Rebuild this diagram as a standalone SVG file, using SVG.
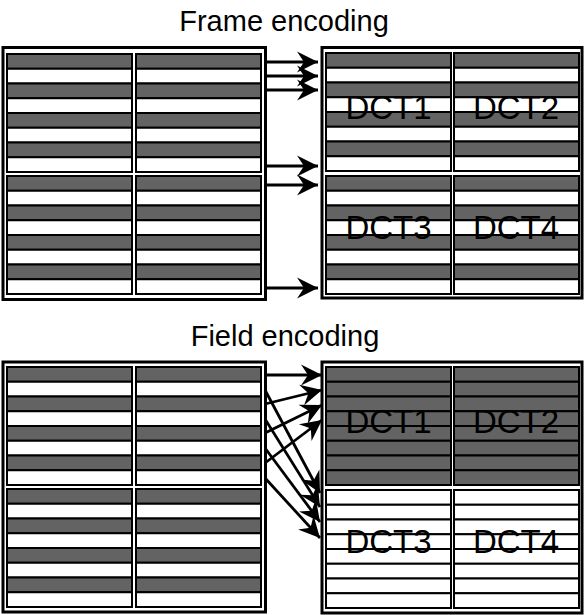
<svg xmlns="http://www.w3.org/2000/svg" xmlns:xlink="http://www.w3.org/1999/xlink" width="584" height="615" viewBox="0 0 584 615">
<style>
.g{fill:#636363;stroke:#000;stroke-width:2}
.w{fill:#fff;stroke:#000;stroke-width:2}
.frame{fill:#fff;stroke:#000;stroke-width:3}
.title{font-family:"Liberation Sans",Arial,sans-serif;font-size:29px;fill:#000;text-anchor:middle}
.dct{font-family:"Liberation Sans",Arial,sans-serif;font-size:33px;fill:#000;text-anchor:middle}
.arr{stroke:#000;stroke-width:2.8;fill:none;marker-end:url(#ah)}
</style>
<defs>
<marker id="ah" viewBox="-22 -11 22 22" refX="0" refY="0" markerWidth="22" markerHeight="22" markerUnits="userSpaceOnUse" orient="auto">
<path d="M0,0 L-21,-10.5 L-14,0 L-21,10.5 Z" fill="#000"/>
</marker>
<g id="mbAlt">
<rect class="g" x="0" y="0" width="125" height="14.75"/>
<rect class="w" x="0" y="14.75" width="125" height="14.75"/>
<rect class="g" x="0" y="29.5" width="125" height="14.75"/>
<rect class="w" x="0" y="44.25" width="125" height="14.75"/>
<rect class="g" x="0" y="59" width="125" height="14.75"/>
<rect class="w" x="0" y="73.75" width="125" height="14.75"/>
<rect class="g" x="0" y="88.5" width="125" height="14.75"/>
<rect class="w" x="0" y="103.25" width="125" height="14.75"/>
</g>
<g id="mbGray">
<rect class="g" x="0" y="0" width="125" height="14.75"/>
<rect class="g" x="0" y="14.75" width="125" height="14.75"/>
<rect class="g" x="0" y="29.5" width="125" height="14.75"/>
<rect class="g" x="0" y="44.25" width="125" height="14.75"/>
<rect class="g" x="0" y="59" width="125" height="14.75"/>
<rect class="g" x="0" y="73.75" width="125" height="14.75"/>
<rect class="g" x="0" y="88.5" width="125" height="14.75"/>
<rect class="g" x="0" y="103.25" width="125" height="14.75"/>
</g>
<g id="mbWhite">
<rect class="w" x="0" y="0" width="125" height="14.75"/>
<rect class="w" x="0" y="14.75" width="125" height="14.75"/>
<rect class="w" x="0" y="29.5" width="125" height="14.75"/>
<rect class="w" x="0" y="44.25" width="125" height="14.75"/>
<rect class="w" x="0" y="59" width="125" height="14.75"/>
<rect class="w" x="0" y="73.75" width="125" height="14.75"/>
<rect class="w" x="0" y="88.5" width="125" height="14.75"/>
<rect class="w" x="0" y="103.25" width="125" height="14.75"/>
</g>
</defs>
<rect width="584" height="615" fill="#fff"/>
<text class="title" x="284" y="31">Frame encoding</text>
<text class="title" x="285" y="346">Field encoding</text>

<g id="frame-src">
<rect class="frame" x="3" y="47.5" width="262.5" height="252"/>
<use xlink:href="#mbAlt" x="7" y="54"/>
<use xlink:href="#mbAlt" x="136" y="54"/>
<use xlink:href="#mbAlt" x="7" y="176"/>
<use xlink:href="#mbAlt" x="136" y="176"/>
</g>

<g id="frame-dct">
<rect class="frame" x="322" y="47.5" width="260" height="250.5"/>
<use xlink:href="#mbAlt" x="326" y="53"/>
<use xlink:href="#mbAlt" x="454" y="53"/>
<use xlink:href="#mbAlt" x="326" y="176"/>
<use xlink:href="#mbAlt" x="454" y="176"/>
<text class="dct" x="388.5" y="119">DCT1</text>
<text class="dct" x="516" y="119">DCT2</text>
<text class="dct" x="388.5" y="239">DCT3</text>
<text class="dct" x="516" y="239">DCT4</text>
</g>

<g id="field-src">
<rect class="frame" x="3" y="362" width="262.5" height="250"/>
<use xlink:href="#mbAlt" x="7" y="367"/>
<use xlink:href="#mbAlt" x="136" y="367"/>
<use xlink:href="#mbAlt" x="7" y="489"/>
<use xlink:href="#mbAlt" x="136" y="489"/>
</g>

<g id="field-dct">
<rect class="frame" x="322" y="362" width="260" height="251"/>
<use xlink:href="#mbGray" x="326" y="367"/>
<use xlink:href="#mbGray" x="454" y="367"/>
<use xlink:href="#mbWhite" x="326" y="490"/>
<use xlink:href="#mbWhite" x="454" y="490"/>
<text class="dct" x="388.5" y="433">DCT1</text>
<text class="dct" x="516" y="433">DCT2</text>
<text class="dct" x="388.5" y="553">DCT3</text>
<text class="dct" x="516" y="553">DCT4</text>
</g>

<g id="connectors">
<line class="arr" x1="267" y1="62" x2="318" y2="62"/>
<line class="arr" x1="267" y1="76" x2="318" y2="76"/>
<line class="arr" x1="267" y1="90" x2="318" y2="90"/>
<line class="arr" x1="267" y1="166" x2="318" y2="166"/>
<line class="arr" x1="267" y1="185" x2="318" y2="185"/>
<line class="arr" x1="267" y1="288" x2="318" y2="288"/>

<line class="arr" x1="265" y1="375" x2="322" y2="375"/>
<line class="arr" x1="265" y1="404" x2="322" y2="390"/>
<line class="arr" x1="265" y1="433" x2="322" y2="405"/>
<line class="arr" x1="265" y1="463" x2="322" y2="420"/>
<line class="arr" x1="265" y1="390" x2="320" y2="493"/>
<line class="arr" x1="265" y1="419" x2="320" y2="507"/>
<line class="arr" x1="265" y1="448" x2="320" y2="522"/>
<line class="arr" x1="265" y1="478" x2="320" y2="538"/>
</g>
</svg>
